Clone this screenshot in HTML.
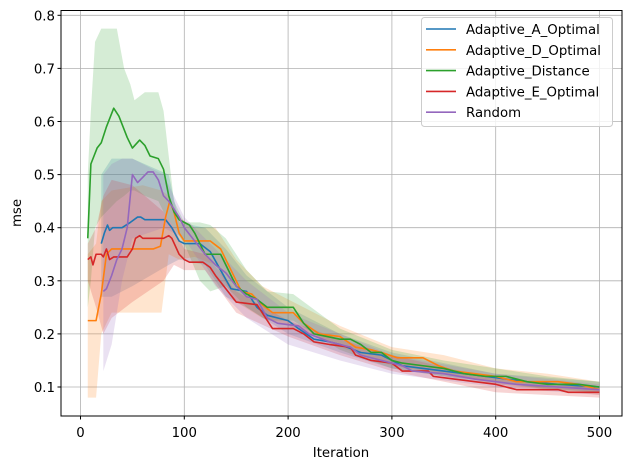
<!DOCTYPE html>
<html><head><meta charset="utf-8"><style>
body{margin:0;background:#fff}
svg text{font-family:"DejaVu Sans","Liberation Sans",sans-serif;font-size:13.3px;fill:#000}
</style></head><body>
<svg width="630" height="469" viewBox="0 0 630 469">
<g id="grid"></g>
<g id="bands"></g>
<g id="lines"></g>
<rect x="61" y="10.5" width="561" height="405.5" fill="none" stroke="#000" stroke-width="1"/>
<g id="ticks"></g>
<text x="341" y="457" text-anchor="middle">Iteration</text>
<text transform="translate(21,213) rotate(-90)" text-anchor="middle">mse</text>
<g id="legend"></g>
</svg>
<script>
const xTicks=[0,100,200,300,400,500];
const yTicks=[0.1,0.2,0.3,0.4,0.5,0.6,0.7,0.8];
const yTickLabels=["0.1","0.2","0.3","0.4","0.5","0.6","0.7","0.8"];
const names=["Adaptive_A_Optimal","Adaptive_D_Optimal","Adaptive_Distance","Adaptive_E_Optimal","Random"];
const colors=["#1f77b4","#ff7f0e","#2ca02c","#d62728","#9467bd"];

const aX=[20,23,26,28,31,40,48,55,58,62,82,88,95,100,115,125,135,145,160,170,180,190,200,210,225,240,250,270,290,300,310,330,350,370,390,410,430,460,500];
const aY=[0.37,0.39,0.405,0.395,0.4,0.4,0.41,0.42,0.42,0.415,0.415,0.4,0.375,0.37,0.37,0.355,0.32,0.285,0.28,0.25,0.235,0.23,0.225,0.21,0.19,0.185,0.18,0.165,0.16,0.15,0.14,0.135,0.13,0.125,0.12,0.115,0.11,0.105,0.1];
const aBX=[20,30,50,85,95,120,140,160,200,250,300,400,500];
const aLo=[0.27,0.27,0.29,0.33,0.34,0.33,0.27,0.25,0.2,0.165,0.135,0.105,0.09];
const aHi=[0.5,0.53,0.53,0.5,0.41,0.4,0.36,0.31,0.25,0.2,0.165,0.125,0.11];

const dX=[7,15,20,25,30,40,70,77,82,86,90,95,100,110,125,135,140,150,155,165,175,185,205,215,230,250,265,280,290,305,330,345,360,380,400,420,460,480,500];
const dY=[0.225,0.225,0.275,0.35,0.36,0.36,0.36,0.365,0.42,0.45,0.43,0.39,0.375,0.375,0.375,0.36,0.34,0.3,0.28,0.275,0.255,0.24,0.24,0.22,0.2,0.195,0.175,0.17,0.165,0.155,0.155,0.14,0.13,0.125,0.12,0.11,0.11,0.105,0.095];
const dBX=[7,15,20,30,60,78,85,95,110,130,150,175,200,250,300,350,400,450,500];
const dLo=[0.08,0.08,0.2,0.24,0.24,0.24,0.35,0.34,0.345,0.33,0.26,0.23,0.215,0.175,0.14,0.125,0.105,0.095,0.085];
const dHi=[0.35,0.37,0.45,0.47,0.48,0.47,0.46,0.42,0.4,0.4,0.34,0.29,0.265,0.215,0.175,0.16,0.135,0.125,0.11];

const gX=[7,10,13,16,20,25,32,37,45,50,57,62,67,75,80,85,90,95,100,105,110,115,120,135,140,150,160,170,180,205,215,225,250,260,270,280,290,300,310,330,350,370,390,410,430,450,480,500];
const gY=[0.38,0.52,0.535,0.55,0.56,0.59,0.625,0.61,0.57,0.55,0.565,0.555,0.535,0.53,0.51,0.46,0.43,0.415,0.41,0.405,0.39,0.37,0.35,0.35,0.33,0.29,0.275,0.265,0.25,0.25,0.22,0.2,0.19,0.19,0.18,0.165,0.165,0.15,0.145,0.14,0.135,0.125,0.12,0.12,0.11,0.105,0.105,0.1];
const gBX=[7,10,14,20,35,42,48,52,62,75,80,90,100,115,125,140,160,180,205,250,300,350,400,450,500];
const gLo=[0.25,0.3,0.4,0.42,0.45,0.46,0.47,0.47,0.46,0.45,0.43,0.4,0.37,0.3,0.28,0.29,0.25,0.225,0.225,0.17,0.135,0.12,0.11,0.095,0.09];
const gHi=[0.5,0.62,0.75,0.775,0.775,0.7,0.67,0.64,0.655,0.655,0.62,0.45,0.41,0.41,0.405,0.38,0.32,0.28,0.275,0.21,0.17,0.15,0.135,0.12,0.11];

const eX=[7,10,12,15,20,22,25,28,32,45,50,53,57,60,80,85,88,95,100,105,118,125,130,140,150,170,180,185,205,215,225,240,260,265,280,300,310,335,340,360,380,400,410,420,460,470,500];
const eY=[0.34,0.345,0.33,0.35,0.35,0.345,0.36,0.34,0.345,0.345,0.36,0.38,0.385,0.38,0.38,0.385,0.38,0.35,0.34,0.335,0.335,0.325,0.31,0.285,0.26,0.255,0.225,0.21,0.21,0.2,0.185,0.18,0.175,0.16,0.15,0.145,0.13,0.13,0.12,0.115,0.11,0.105,0.1,0.095,0.095,0.09,0.09];
const eBX=[7,15,22,30,50,80,90,100,120,150,200,250,300,400,500];
const eLo=[0.3,0.25,0.2,0.23,0.26,0.3,0.33,0.32,0.32,0.24,0.195,0.16,0.13,0.09,0.08];
const eHi=[0.37,0.4,0.46,0.49,0.48,0.43,0.4,0.36,0.35,0.28,0.225,0.19,0.16,0.115,0.1];

const rX=[22,25,30,35,40,45,50,55,60,65,70,75,80,85,90,95,100,110,120,130,140,150,160,170,180,190,210,220,240,260,270,290,310,320,350,380,400,420,460,500];
const rY=[0.28,0.285,0.31,0.34,0.36,0.4,0.5,0.485,0.495,0.505,0.505,0.49,0.46,0.45,0.435,0.42,0.4,0.375,0.35,0.33,0.315,0.29,0.27,0.265,0.23,0.22,0.215,0.2,0.185,0.175,0.16,0.15,0.14,0.13,0.125,0.115,0.11,0.105,0.1,0.095];
const rBX=[22,30,40,50,80,100,130,160,200,250,300,400,500];
const rLo=[0.13,0.18,0.3,0.38,0.4,0.38,0.29,0.23,0.18,0.15,0.125,0.1,0.085];
const rHi=[0.5,0.52,0.53,0.53,0.5,0.42,0.36,0.3,0.24,0.2,0.16,0.125,0.105];

const series=[[aX,aY,aBX,aLo,aHi],[dX,dY,dBX,dLo,dHi],[gX,gY,gBX,gLo,gHi],[eX,eY,eBX,eLo,eHi],[rX,rY,rBX,rLo,rHi]];
const NS="http://www.w3.org/2000/svg";
const sx=v=>80.5+1.038*v, sy=v=>387-(v-0.1)*531;
function mk(t,a,p){const e=document.createElementNS(NS,t);for(const k in a)e.setAttribute(k,a[k]);p.appendChild(e);return e;}
const grid=document.getElementById('grid'),ticks=document.getElementById('ticks');
xTicks.forEach(v=>{
 const l=mk('line',{x1:sx(v),x2:sx(v),y1:10.5,y2:416,stroke:'#b0b0b0','stroke-width':0.8},grid);
 
 
 const t=mk('line',{x1:sx(v),x2:sx(v),y1:416,y2:419.5,stroke:'#000'},ticks);
 
 
 const tx=mk('text',{x:sx(v),y:437,'text-anchor':'middle'},ticks);tx.textContent=v;
 
 
});
yTicks.forEach((v,i)=>{
 const l=mk('line',{x1:61,x2:622,y1:sy(v),y2:sy(v),stroke:'#b0b0b0','stroke-width':0.8},grid);
 
 
 const t=mk('line',{x1:57.5,x2:61,y1:sy(v),y2:sy(v),stroke:'#000'},ticks);
 
 
 const tx=mk('text',{x:55,y:sy(v)+5,'text-anchor':'end'},ticks);tx.textContent=yTickLabels[i];
 
 
});
const bands=document.getElementById('bands'),lines=document.getElementById('lines');
series.forEach((s,i)=>{
 const [X,Y,BX,LO,HI]=s;
 let pts=BX.map((x,j)=>sx(x)+','+sy(HI[j]));
 for(let j=BX.length-1;j>=0;j--)pts.push(sx(BX[j])+','+sy(LO[j]));
 const b=mk('polygon',{points:pts.join(' '),fill:colors[i],'fill-opacity':0.2,stroke:'none'},bands);
 
 
});
series.forEach((s,i)=>{
 const [X,Y]=s;
 const p=mk('polyline',{points:X.map((x,j)=>sx(x)+','+sy(Y[j])).join(' '),fill:'none',stroke:colors[i],'stroke-width':1.6,'stroke-linejoin':'round'},lines);
 
 
});
const lg=document.getElementById('legend');
const box=mk('rect',{x:421.5,y:17.5,width:191,height:109,rx:3,fill:'#fff','fill-opacity':0.8,stroke:'#ccc'},lg);


names.forEach((n,i)=>{
 const y=29+i*20.8;
 const g=mk('g',{},lg);
 
 
 mk('line',{x1:426,x2:456,y1:y,y2:y,stroke:colors[i],'stroke-width':1.6},g);
 const t=mk('text',{x:466,y:y+5},g);t.textContent=n;
});
</script>
</body></html>
